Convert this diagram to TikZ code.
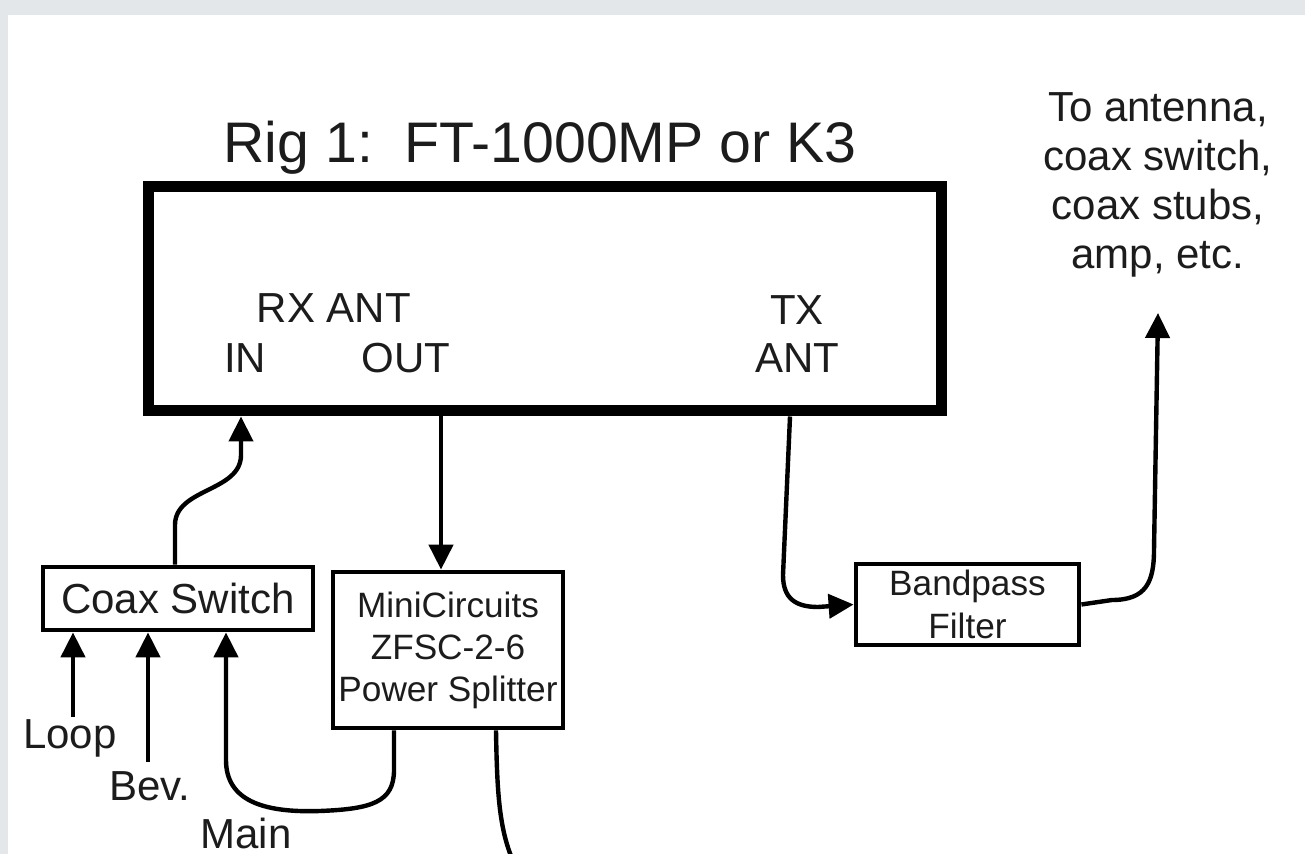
\documentclass[tikz,border=0pt]{standalone}
\usepackage{fontspec}
\setmainfont{Liberation Sans}
\usetikzlibrary{arrows.meta}
\definecolor{framegray}{HTML}{E3E7E9}
\definecolor{ink}{HTML}{1C1C1C}
\tikzset{
  bigbox/.style={draw=black, line width=5.5pt, inner sep=0pt, minimum width=396.5pt, minimum height=112pt},
  smallbox/.style={draw=black, line width=2.4pt, inner sep=0pt, align=center, text=ink},
  lbl/.style={inner sep=0pt, text=ink, font=\fontsize{21pt}{24pt}\selectfont},
  arr/.style={draw=black, line width=2.2pt, -{Triangle[length=12.5pt,width=12pt]}},
  wire/.style={draw=black, line width=2.2pt}
}
\begin{document}
\begin{tikzpicture}[x=0.5pt,y=-0.5pt]
\useasboundingbox (0,0) rectangle (1305,854);
\fill[framegray] (0,0) rectangle (1305,854);
\fill[white] (8,15) rectangle (1305,854);

% title and rig box
\node[inner sep=0pt, text=ink, font=\fontsize{28.6pt}{32pt}\selectfont, anchor=base] (title) at (540,163) {Rig 1:\ \ FT-1000MP or K3};
\node[bigbox] (rig) at (544.5,299) {};
\node[lbl, anchor=base] (rxant) at (334,323) {RX ANT};
\node[lbl, anchor=base] (in) at (245,373) {IN};
\node[lbl, anchor=base] (out) at (406,373) {OUT};
\node[lbl, anchor=base] (tx) at (797,325) {TX};
\node[lbl, anchor=base] (txant) at (797,373) {ANT};

% right label
\node[lbl, align=center, anchor=north, font=\fontsize{21pt}{24.5pt}\selectfont] (ant) at (1158,92) {To antenna,\\coax switch,\\coax stubs,\\amp, etc.};

% boxes
\node[smallbox, minimum width=135pt, minimum height=31.5pt, font=\fontsize{21pt}{24pt}\selectfont] (cs) at (178,598.5) {Coax Switch};
\node[smallbox, minimum width=115pt, minimum height=78pt, font=\fontsize{17.6pt}{21pt}\selectfont] (mini) at (448,650) {MiniCircuits\\ZFSC-2-6\\Power Splitter};
\node[smallbox, minimum width=111.5pt, minimum height=40.5pt, font=\fontsize{17.6pt}{21.5pt}\selectfont] (bp) at (967.5,604.5) {Bandpass\\Filter};

% bottom labels
\node[lbl, anchor=base] (loop) at (70,748) {Loop};
\node[lbl, anchor=base] (bev) at (150,800) {Bev.};
\node[lbl, anchor=base] (main) at (246,848) {Main};

\coordinate (loopst) at (73,717);
\coordinate (bevst) at (148,762);
\coordinate (mainx) at (226,700);
\coordinate (inx) at (241,455);
\coordinate (anttip) at (1158,313);
\coordinate (splitend) at (511,856);

% connectors
\draw[arr] (loopst) -- (loopst |- cs.south);
\draw[arr] (bevst) -- (bevst |- cs.south);
\draw[arr] ([xshift=-27pt]mini.south) -- (394,770) .. controls (394,802) and (372,809) .. (320,811)
  .. controls (262,813) and (226,800) .. (226,760) -- (mainx |- cs.south);
\draw[arr] ([xshift=-1.5pt]cs.north) -- (175,525) .. controls (175,488) and (241,492) .. (inx) -- (inx |- rig.south);
\draw[arr] ([xshift=-3.5pt]mini.north |- rig.south) -- ([xshift=-3.5pt]mini.north);
\draw[wire] ([xshift=24pt]mini.south) .. controls (497,790) and (499,825) .. (splitend);
\draw[arr] ([xshift=122.75pt]rig.south) -- (783,575) .. controls (783,598) and (795,607) .. (818,607) -- (bp.west);
\draw[arr] (bp.east) -- (1112,600) .. controls (1146,600) and (1154,582) .. (1154,550) -- (anttip);
\end{tikzpicture}
\end{document}
